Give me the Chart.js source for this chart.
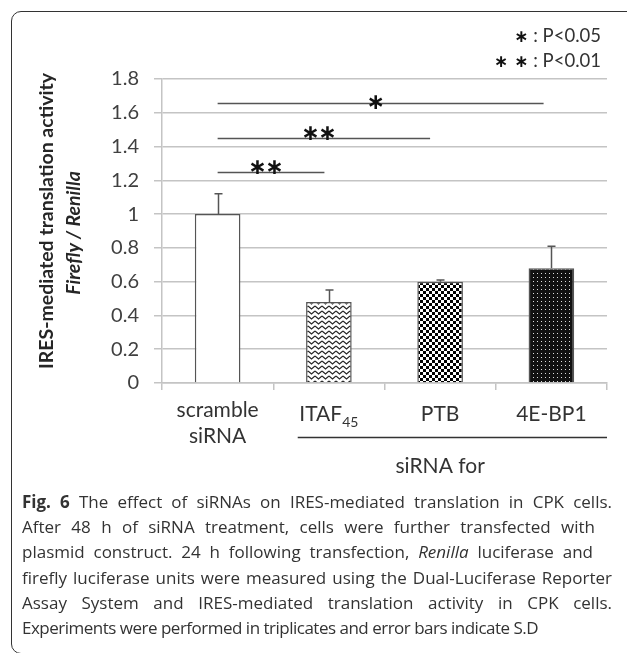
<!DOCTYPE html>
<html>
<head>
<meta charset="utf-8">
<script src="https://cdn.jsdelivr.net/npm/chart.js@4.4.0/dist/chart.umd.min.js"></script>
<style>
  body { margin: 0; background: #fff; width: 627px; height: 653px; overflow: hidden; position: relative; font-family: Lato, sans-serif; color: #333; }
  #frame { position: absolute; left: 11px; top: 11px; width: 700px; height: 643px; border: 1.5px solid #333; border-radius: 10px; box-sizing: border-box; }
  #wrap { position: absolute; left: 0; top: 0; width: 627px; height: 490px; }
  .ytitle { position: absolute; white-space: nowrap; font-weight: bold; font-size: 19.5px; color: #262626; transform: translate(-50%, -50%) rotate(-90deg); }
  #legend { position: absolute; right: 26px; top: 23px; text-align: right; font-size: 18.5px; line-height: 24px; color: #333; }
  #legend .st { font-family: "DejaVu Sans"; font-weight: bold; font-size: 17px; color: #111; }
  #caption { position: absolute; left: 22px; top: 489px; width: 590px; font-family: "Open Sans", sans-serif; font-size: 17px; line-height: 25.2px; color: #333; }
  #caption div { white-space: nowrap; }
  #caption .j { text-align: justify; text-align-last: justify; }
</style>
</head>
<body>
<div id="frame"></div>
<div id="wrap"><canvas id="chart"></canvas></div>
<div class="ytitle" style="left:45px; top:221px;">IRES-mediated translation activity</div>
<div class="ytitle" style="left:72px; top:233px;"><i>Firefly / Renilla</i></div>
<div id="legend">
  <div><span class="st">∗</span> : P&lt;0.05</div>
  <div><span class="st">∗ ∗</span> : P&lt;0.01</div>
</div>
<div id="caption">
  <div class="j"><b>Fig. 6</b> The effect of siRNAs on IRES-mediated translation in CPK cells.</div>
  <div class="j" style="width:573px;">After 48 h of siRNA treatment, cells were further transfected with</div>
  <div class="j" style="width:571px;">plasmid construct. 24 h following transfection, <i>Renilla</i> luciferase and</div>
  <div class="j">firefly luciferase units were measured using the Dual-Luciferase Reporter</div>
  <div class="j">Assay System and IRES-mediated translation activity in CPK cells.</div>
  <div style="letter-spacing:-0.5px;">Experiments were performed in triplicates and error bars indicate S.D</div>
</div>
<script>
// groups and values
const categories = ['scramble siRNA', 'ITAF45', 'PTB', '4E-BP1'];
const labelLines = [['scramble', 'siRNA'], ['ITAF'], ['PTB'], ['4E-BP1']];
const labelSubs = ['', '45', '', ''];
const means = [1.0, 0.48, 0.60, 0.68];
const errors = [0.12, 0.07, 0.01, 0.13];
const yTicks = [0, 0.2, 0.4, 0.6, 0.8, 1, 1.2, 1.4, 1.6, 1.8];

// significance brackets (category index from / to, height, mark)
const sigFrom = [0, 0, 0];
const sigTo = [2.93, 1.91, 0.96];
const sigLevel = [1.66, 1.45, 1.25];
const sigMarks = ['∗', '∗∗', '∗∗'];

function makePattern(w, h, draw) {
    const c = document.createElement('canvas');
    c.width = w; c.height = h;
    const g = c.getContext('2d');
    draw(g);
    return g.createPattern(c, 'repeat');
}

const zigzag = makePattern(7, 5, g => {
    g.fillStyle = '#fff'; g.fillRect(0, 0, 7, 5);
    g.strokeStyle = '#222'; g.lineWidth = 1.1;
    g.beginPath(); g.moveTo(0, 1); g.lineTo(3.5, 4); g.lineTo(7, 1); g.stroke();
});
const checker = makePattern(6, 6, g => {
    g.fillStyle = '#fff'; g.fillRect(0, 0, 6, 6);
    g.fillStyle = '#000'; g.fillRect(0, 0, 3, 3); g.fillRect(3, 3, 3, 3);
});
const dots = makePattern(4, 4, g => {
    g.fillStyle = '#111'; g.fillRect(0, 0, 4, 4);
    g.fillStyle = '#ddd'; g.fillRect(1, 1, 1, 1);
});

const overlay = {
    id: 'overlay',
    afterDatasetsDraw(chart) {
        const { ctx } = chart;
        const x = chart.scales.x, y = chart.scales.y;
        ctx.save();

        // error bars (upper half only)
        ctx.strokeStyle = '#555';
        ctx.lineWidth = 1.5;
        means.forEach((m, i) => {
            const px = Math.round(x.getPixelForValue(i)) + 0.5;
            const top = y.getPixelForValue(m + errors[i]);
            ctx.beginPath();
            ctx.moveTo(px, y.getPixelForValue(m));
            ctx.lineTo(px, top);
            ctx.moveTo(px - 4, top);
            ctx.lineTo(px + 4, top);
            ctx.stroke();
        });

        // significance lines and stars
        ctx.font = 'bold 22px "DejaVu Sans"';
        ctx.fillStyle = '#111';
        ctx.textAlign = 'center';
        const m = ctx.measureText('∗');
        const mid = (m.actualBoundingBoxAscent - m.actualBoundingBoxDescent) / 2;
        sigLevel.forEach((lv, i) => {
            const x0 = x.getPixelForValue(sigFrom[i]);
            const x1 = x.getPixelForValue(sigTo[i]);
            const py = Math.round(y.getPixelForValue(lv)) + 0.5;
            ctx.beginPath();
            ctx.moveTo(x0, py);
            ctx.lineTo(x1, py);
            ctx.stroke();
            const cx = (x0 + x1) / 2 - 5;
            const stars = sigMarks[i].length;
            const cy = stars > 1 ? py - 6 : py - 2;
            for (let k = 0; k < stars; k++) {
                ctx.fillText('∗', cx + (k - (stars - 1) / 2) * 17, cy + mid);
            }
        });

        // category labels
        ctx.fillStyle = '#333';
        ctx.textAlign = 'left';
        labelLines.forEach((lines, i) => {
            const px = x.getPixelForValue(i);
            const base = lines.length > 1 ? y.bottom + 34 : y.bottom + 38;
            lines.forEach((t, k) => {
                ctx.font = '21px Lato';
                const w = ctx.measureText(t).width;
                ctx.font = '14px Lato';
                const ws = labelSubs[i] && k === 0 ? ctx.measureText(labelSubs[i]).width : 0;
                const left = px - (w + ws) / 2;
                ctx.font = '21px Lato';
                ctx.fillText(t, left, base + k * 26);
                if (ws) {
                    ctx.font = '14px Lato';
                    ctx.fillText(labelSubs[i], left + w, base + 6);
                }
            });
        });

        // "siRNA for" group line and label
        ctx.strokeStyle = '#333';
        ctx.lineWidth = 1.5;
        ctx.beginPath();
        ctx.moveTo(x.getPixelForValue(0.72), y.bottom + 54.5);
        ctx.lineTo(x.getPixelForValue(3.5), y.bottom + 54.5);
        ctx.stroke();
        ctx.font = '21px Lato';
        ctx.textAlign = 'center';
        ctx.fillText('siRNA for', x.getPixelForValue(2), y.bottom + 90);

        ctx.restore();
    }
};

const gridColor = '#c4c4c4';

new Chart(document.getElementById('chart'), {
    type: 'bar',
    data: {
        labels: categories,
        datasets: [{
            data: means,
            backgroundColor: ['#fff', zigzag, checker, dots],
            borderColor: '#555',
            borderWidth: 1.5,
            barPercentage: 0.41,
            categoryPercentage: 1
        }]
    },
    options: {
        responsive: true,
        maintainAspectRatio: false,
        animation: false,
        layout: { padding: { top: 79, right: 20, left: 0, bottom: 0 } },
        plugins: {
            legend: { display: false },
            tooltip: { enabled: false }
        },
        scales: {
            x: {
                grid: { offset: true, drawOnChartArea: false, color: gridColor, lineWidth: 1.5, tickLength: 7 },
                border: { color: gridColor, width: 1.5 },
                ticks: { display: false },
                afterFit: s => { s.height = 107; }
            },
            y: {
                min: 0,
                max: 1.8,
                afterBuildTicks: s => { s.ticks = yTicks.map(v => ({ value: v })); },
                grid: { color: gridColor, lineWidth: 1.5, tickLength: 8 },
                border: { color: gridColor, width: 1.5 },
                ticks: {
                    padding: 15,
                    color: '#404040',
                    font: { family: 'Lato', size: 20 },
                    callback: v => String(Math.round(v * 10) / 10)
                },
                afterFit: s => { s.width = 162; }
            }
        }
    },
    plugins: [overlay]
});
</script>
</body>
</html>
